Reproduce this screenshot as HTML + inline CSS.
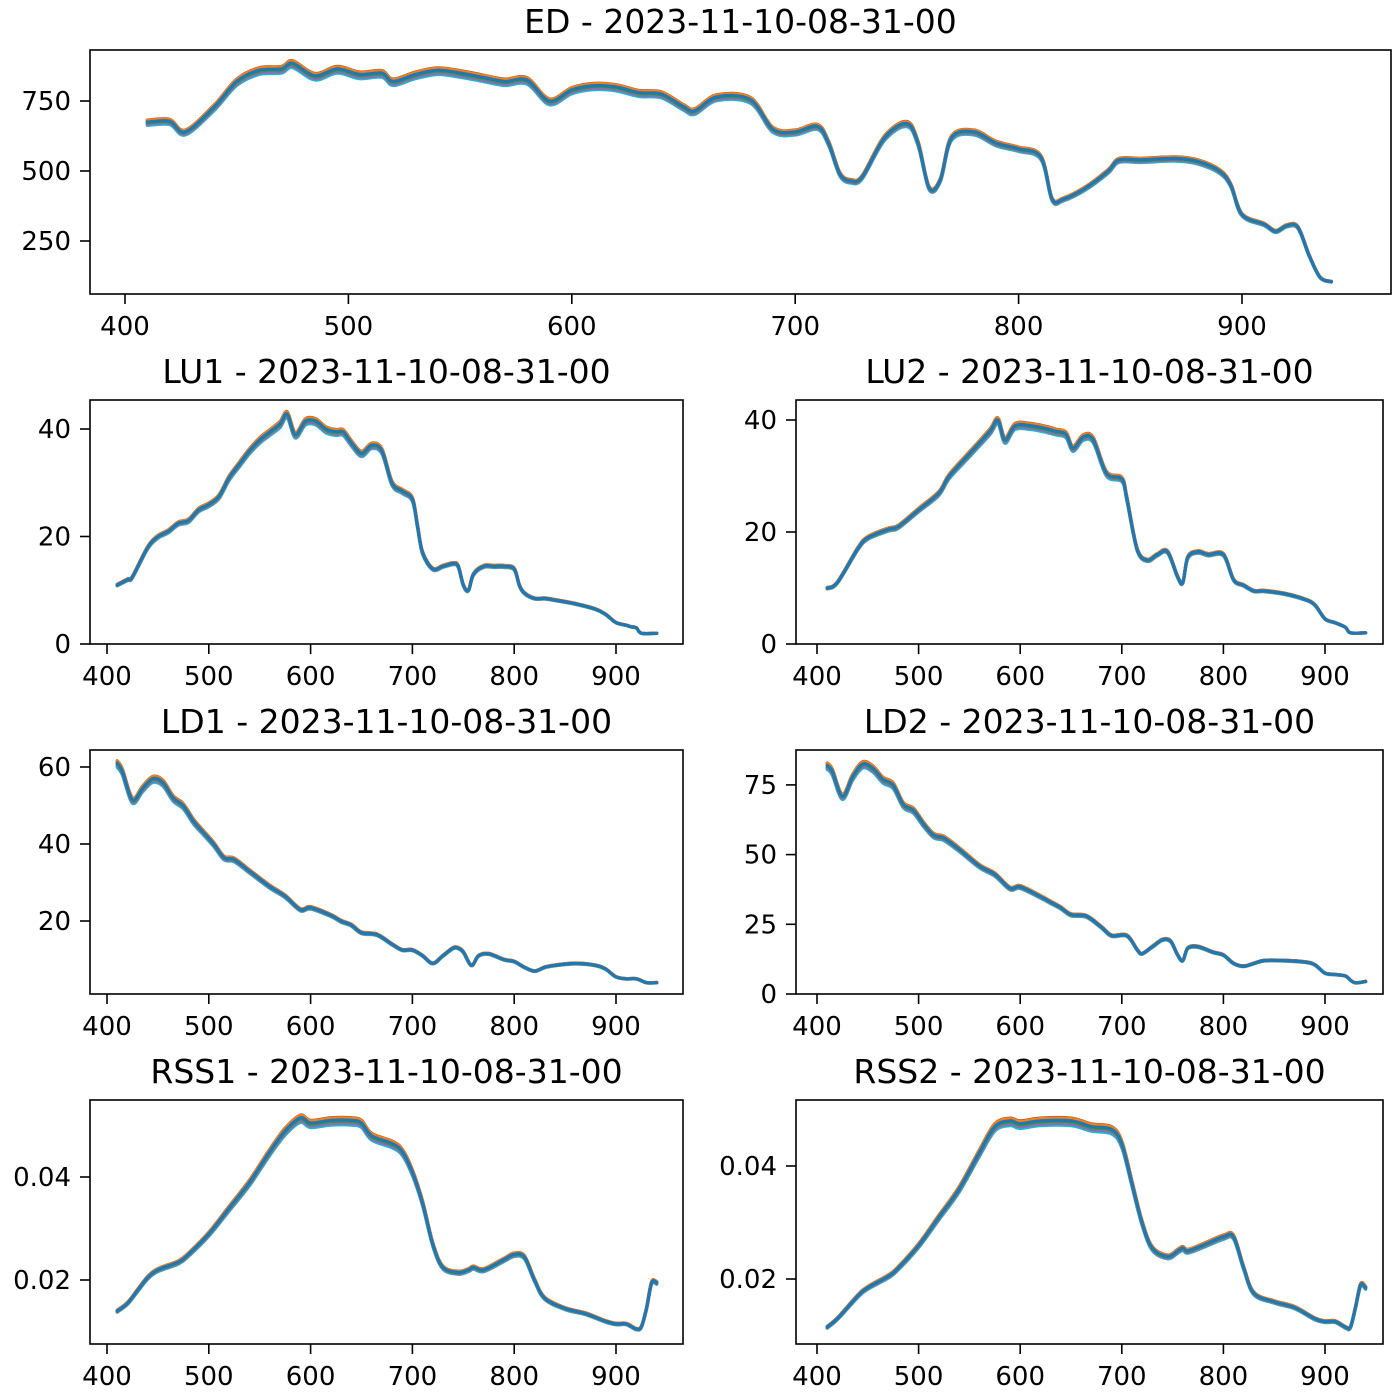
<!DOCTYPE html>
<html><head><meta charset="utf-8"><style>
html,body{margin:0;padding:0;background:#fff}
svg{display:block}
text{font-family:"DejaVu Sans","Liberation Sans",sans-serif;fill:#000}
</style></head><body>
<svg id="fig" width="1400" height="1400" viewBox="0 0 1400 1400" xmlns="http://www.w3.org/2000/svg"></svg>
<script>
const edWl=[410,420,427,440,450,460,470,475,485,495,505,515,520,530,540,550,560,570,580,590,600,610,620,630,640,650,655,665,680,690,700,710,715,720,725,730,740,750,755,760,765,770,780,790,800,810,815,820,830,840,845,855,870,880,890,895,900,910,915,920,925,930,935,940];
const edVals=[675,678,640,730,820,860,865,885,840,865,845,850,820,845,860,850,835,820,825,750,790,805,800,780,775,730,715,765,755,650,640,660,600,490,465,480,620,670,600,440,470,620,640,600,580,550,400,400,440,500,540,540,545,535,500,450,345,310,285,305,300,200,120,105];
const lu1Wl=[410,420,425,440,450,460,470,480,490,500,510,520,530,540,550,560,570,577,585,595,605,615,625,632,640,650,660,670,680,690,700,705,710,720,730,740,745,750,755,760,770,780,790,800,805,810,820,830,840,860,880,890,900,910,915,920,925,940];
const lu1Vals=[11,12,12.5,18,20,21,22.5,23,25,26,27.5,31,33.5,36,38,39.5,41,42.8,39,41.5,41.5,40,39.5,39.5,37.5,35.5,37,36,30,28.5,27,22,17,14,14.5,15,14.5,11,10,13,14.5,14.5,14.5,14,11,9.5,8.5,8.5,8.2,7.5,6.5,5.5,4,3.5,3.2,3,2,2];
const lu2Wl=[410,420,440,450,470,480,500,520,530,550,570,578,585,595,610,625,635,645,652,662,672,685,700,705,715,725,735,745,755,760,765,775,785,800,810,820,830,840,860,880,890,900,910,920,925,940];
const lu2Vals=[10,11,17,19,20.5,21,24,27,30,34,38,40,36.5,39,39,38.5,38,37.5,35,37,36.5,30.5,29.5,26,17,15,16,16.5,12,11,15.5,16.5,16,16,11.5,10.5,9.5,9.5,9,8,7,4.5,3.8,3,2,2];
const ld1Wl=[410,415,425,435,445,455,465,475,485,495,505,515,525,540,560,575,590,600,620,630,640,650,665,680,690,700,710,720,730,740,745,750,758,765,775,790,800,810,820,830,840,860,880,890,900,910,920,930,940];
const ld1Vals=[61,59,51.5,54.5,57,56,52,50,46,43,40,36.5,36,33,29,26.5,23,23.5,21.5,20,19,17,16.5,14,12.5,12.5,11,9,11,13,13,12,8.5,11,11.5,10,9.5,8,7,8,8.5,9,8.5,7.5,5.5,5,5,4,4];
const ld2Wl=[410,415,425,435,445,455,465,475,485,495,505,515,525,540,560,575,590,600,620,630,640,650,665,680,690,705,715,720,730,740,748,755,760,765,775,790,800,810,820,830,840,860,880,890,900,910,920,925,930,940];
const ld2Vals=[82,80,71,78,82.5,81,77,75,68,66,61,57,56,52,46,43,38,38.5,35,33,31,28.5,28,24,21,21,16,14.5,17,19.5,19,14,12,16.5,17,15,14,11,10,11,12,12,11.5,10.5,7.5,7,6.5,5,4,4.5];
const rss1Wl=[410,420,430,440,450,470,480,500,520,540,560,575,590,600,620,640,650,660,680,690,700,710,720,730,745,755,760,770,790,800,810,820,830,850,870,890,900,910,920,925,930,935,940];
const rss1Vals=[.014,.0155,.018,.0205,.022,.0235,.025,.029,.034,.039,.045,.049,.0515,.0505,.051,.051,.0505,.048,.0465,.045,.041,.035,.027,.0225,.0215,.022,.0225,.022,.024,.025,.0245,.02,.0165,.0145,.0135,.012,.0115,.0115,.0105,.011,.0145,.0195,.0195];
const rss2Wl=[410,420,440,450,470,480,500,520,540,560,575,590,600,620,650,670,690,700,710,720,730,745,755,760,765,780,800,810,820,830,850,870,890,900,910,920,925,930,935,940];
const rss2Vals=[.0115,.013,.017,.0185,.0205,.022,.026,.031,.036,.0425,.047,.048,.0475,.048,.048,.047,.0465,.044,.037,.03,.0255,.024,.025,.0255,.025,.026,.0275,.0275,.022,.0175,.016,.015,.013,.0125,.0125,.0115,.0115,.015,.019,.0185];
const seriesScale=[0.982,0.99,1.006,0.994,1.01,0.988,1.004,0.996,1.008,1.0];
const xTicks=[400,500,600,700,800,900];
const colors=['#17becf','#bcbd22','#7f7f7f','#e377c2','#8c564b','#9467bd','#d62728','#2ca02c','#ff7f0e','#1f77b4'];

const svg=document.getElementById('fig');
const NS='http://www.w3.org/2000/svg';
function el(tag,attrs,parent){const e=document.createElementNS(NS,tag);for(const k in attrs)e.setAttribute(k,attrs[k]);(parent||svg).appendChild(e);return e;}
function smoothPath(pts){
  let d='M'+pts[0][0].toFixed(1)+','+pts[0][1].toFixed(1);
  for(let i=0;i<pts.length-1;i++){
    const p0=pts[Math.max(0,i-1)],p1=pts[i],p2=pts[i+1],p3=pts[Math.min(pts.length-1,i+2)];
    const c1x=p1[0]+(p2[0]-p0[0])/6,c1y=p1[1]+(p2[1]-p0[1])/6;
    const c2x=p2[0]-(p3[0]-p1[0])/6,c2y=p2[1]-(p3[1]-p1[1])/6;
    d+='C'+c1x.toFixed(1)+','+c1y.toFixed(1)+' '+c2x.toFixed(1)+','+c2y.toFixed(1)+' '+p2[0].toFixed(1)+','+p2[1].toFixed(1);
  }
  return d;
}

const panels=[
 {name:'ed',title:'ED - 2023-11-10-08-31-00',L:90,T:50,R:1391,B:294,x400:125,xs:2.234,y0:101,v0:750,ys:70/250,wl:edWl,vals:edVals,yt:[250,500,750],fmt:v=>v},
 {name:'lu1',title:'LU1 - 2023-11-10-08-31-00',L:90,T:400,R:683,B:644,x400:107,xs:1.018,y0:644,v0:0,ys:107.5/20,wl:lu1Wl,vals:lu1Vals,yt:[0,20,40],fmt:v=>v},
 {name:'lu2',title:'LU2 - 2023-11-10-08-31-00',L:796,T:400,R:1383,B:644,x400:817,xs:1.016,y0:644,v0:0,ys:112/20,wl:lu2Wl,vals:lu2Vals,yt:[0,20,40],fmt:v=>v},
 {name:'ld1',title:'LD1 - 2023-11-10-08-31-00',L:90,T:750,R:683,B:994,x400:107,xs:1.018,y0:998,v0:0,ys:3.85,wl:ld1Wl,vals:ld1Vals,yt:[20,40,60],fmt:v=>v},
 {name:'ld2',title:'LD2 - 2023-11-10-08-31-00',L:796,T:750,R:1383,B:994,x400:817,xs:1.016,y0:994,v0:0,ys:69.7/25,wl:ld2Wl,vals:ld2Vals,yt:[0,25,50,75],fmt:v=>v},
 {name:'rss1',title:'RSS1 - 2023-11-10-08-31-00',L:90,T:1100,R:683,B:1344,x400:107,xs:1.018,y0:1383,v0:0,ys:5150,wl:rss1Wl,vals:rss1Vals,yt:[0.02,0.04],fmt:v=>v.toFixed(2)},
 {name:'rss2',title:'RSS2 - 2023-11-10-08-31-00',L:796,T:1100,R:1383,B:1344,x400:817,xs:1.016,y0:1392,v0:0,ys:5650,wl:rss2Wl,vals:rss2Vals,yt:[0.02,0.04],fmt:v=>v.toFixed(2)}
];

panels.forEach(p=>{
  const g=el('g',{});
  
  
  const X=w=>p.x400+(w-400)*p.xs;
  const Y=v=>p.y0-(v-p.v0)*p.ys;
  const cid='clip-'+p.name;
  const cp=el('clipPath',{id:cid},g);
  el('rect',{x:p.L,y:p.T,width:p.R-p.L,height:p.B-p.T},cp);
  const lg=el('g',{'clip-path':'url(#'+cid+')'},g);
  seriesScale.forEach((s,i)=>{
    const pts=p.wl.map((w,j)=>[X(w),Y(p.vals[j]*s)]);
    const path=el('path',{d:smoothPath(pts),fill:'none',stroke:colors[i],'stroke-width':3.2,'stroke-linejoin':'round','stroke-linecap':'round'},lg);
    
    
  });
  const frame=el('rect',{x:p.L,y:p.T,width:p.R-p.L,height:p.B-p.T,fill:'none',stroke:'#000','stroke-width':1.6},g);
  
  
  xTicks.forEach(t=>{
    const x=X(t);
    el('line',{x1:x,x2:x,y1:p.B,y2:p.B+10,stroke:'#000','stroke-width':1.6},g);
    const tx=el('text',{x:x,y:p.B+41,'text-anchor':'middle','font-size':26},g);
    tx.textContent=t;
    
    
  });
  p.yt.forEach(t=>{
    const y=Y(t);
    el('line',{x1:p.L-10,x2:p.L,y1:y,y2:y,stroke:'#000','stroke-width':1.6},g);
    const ty=el('text',{x:p.L-19,y:y+9,'text-anchor':'end','font-size':26},g);
    ty.textContent=p.fmt(t);
    
    
  });
  const tt=el('text',{x:(p.L+p.R)/2,y:p.T-17,'text-anchor':'middle','font-size':33},g);
  tt.textContent=p.title;
  
  
});
</script>
</body></html>
